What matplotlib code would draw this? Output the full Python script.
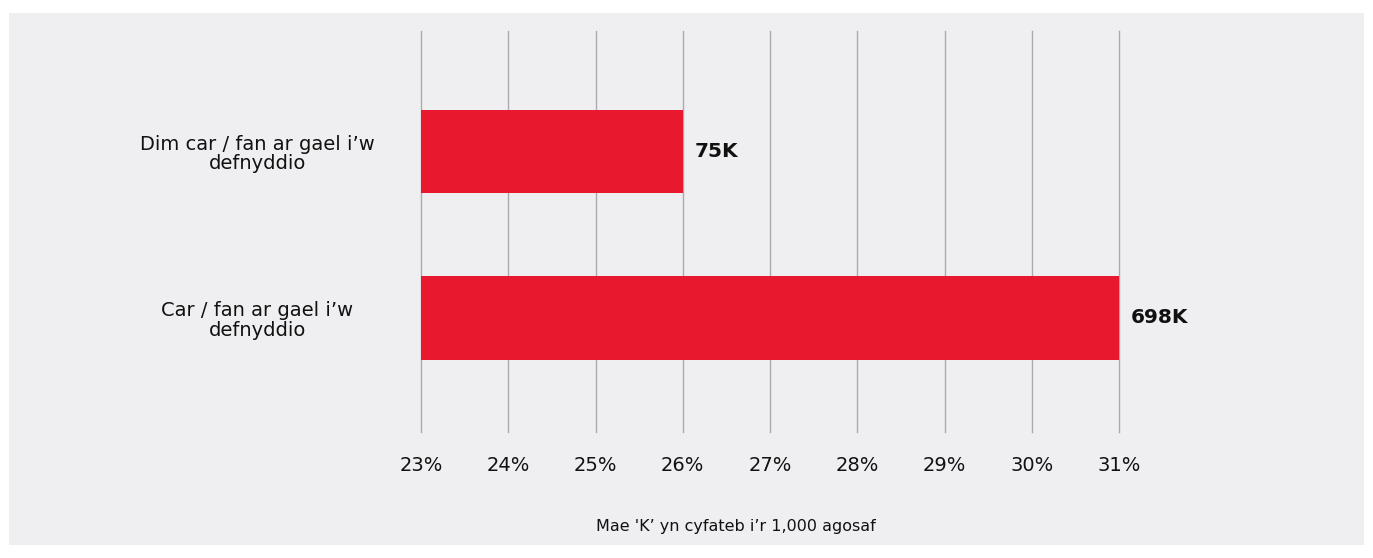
import matplotlib.pyplot as plt
from matplotlib.patches import Rectangle

# données du graphique
categories = ["Car / fan ar gael i\u2019w\ndefnyddio", "Dim car / fan ar gael i\u2019w\ndefnyddio"]
valeurs = [31, 26]  # pourcentage (axe)
etiquettes = ["698K", "75K"]
ticks = [23, 24, 25, 26, 27, 28, 29, 30, 31]
note = "Mae 'K\u2019 yn cyfateb i\u2019r 1,000 agosaf"

plt.rcParams['font.family'] = ['DejaVu Sans']

W, H = 1373, 558
fig = plt.figure(figsize=(W / 100, H / 100), dpi=100)
fig.patch.set_facecolor("white")

# panneau gris de fond
fig.patches.append(Rectangle((9 / W, 13 / H), (1364 - 9) / W, (545 - 13) / H,
                             transform=fig.transFigure, facecolor="#efeff1",
                             edgecolor="none", zorder=-10))

ax = fig.add_axes([421 / W, (558 - 432) / H, 698 / W, 401 / H])
ax.set_zorder(1)
ax.set_facecolor("none")

ax.barh(range(len(categories)), valeurs, height=0.5, color="#e8192f", zorder=2)
for i, (v, t) in enumerate(zip(valeurs, etiquettes)):
    ax.text(v + 0.14, i, t, va="center", ha="left", fontsize=14.5,
            fontweight="bold", color="#111111")

ax.set_xlim(23, 31)
ax.set_ylim(-0.685, 1.724)
ax.set_xticks(ticks)
ax.set_xticklabels([f"{t}%" for t in ticks], fontsize=14, color="#111111")
ax.set_yticks(range(len(categories)))
ax.set_yticklabels(categories, fontsize=14, color="#111111", ha="center",
                   multialignment="center", linespacing=1.05)
ax.tick_params(axis="x", length=0, pad=17)
ax.tick_params(axis="y", length=0, pad=118)
ax.grid(axis="x", color="#aaaab2", linewidth=1.0, zorder=1)
for gl in ax.get_xgridlines():
    gl.set_clip_on(False)
ax.set_axisbelow(True)
for s in ax.spines.values():
    s.set_visible(False)

fig.text(736 / W, (558 - 527) / H, note, ha="center", va="center",
         fontsize=11.5, color="#111111")

plt.savefig("out.png", dpi=100)
